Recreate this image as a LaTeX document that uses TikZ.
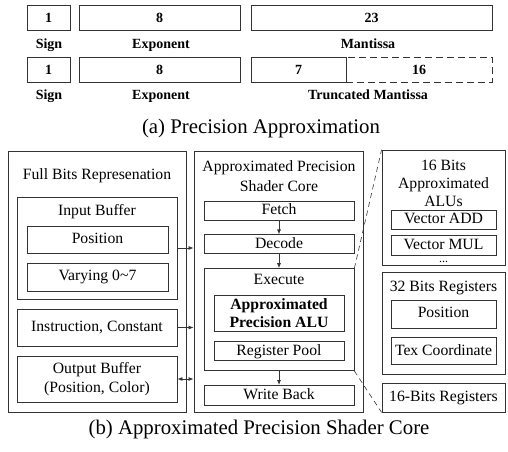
\documentclass[tikz,border=0pt]{standalone}
\usepackage{fontspec}
\setmainfont{Liberation Serif}
\usetikzlibrary{arrows.meta,positioning}

\begin{document}
\begin{tikzpicture}[x=1pt, y=-1pt, node distance=14pt,
    blk/.style={rectangle, draw=black!80, line width=0.8pt, inner sep=0pt, align=center, font=\fontsize{15.7}{18.5}\selectfont},
    one/.style={text height=10.6pt, text depth=3.2pt},
    bit/.style={rectangle, draw=black!80, line width=0.8pt, minimum height=25pt, inner sep=0pt, font=\fontsize{14}{16}\selectfont\bfseries},
    lbl/.style={inner sep=0pt, anchor=north, font=\fontsize{14}{16}\selectfont\bfseries},
    txt/.style={inner sep=0pt, anchor=north, align=center, font=\fontsize{15.7}{18.7}\selectfont},
    captxt/.style={inner sep=0pt, anchor=base, font=\fontsize{20.8}{24}\selectfont},
    arr/.style={-{Latex[length=5pt,width=4pt]}, line width=0.8pt, draw=black!80},
    zoomln/.style={dash pattern=on 5pt off 4pt, line width=0.6pt, draw=black!80}]
    \useasboundingbox (0,0) rectangle (508,451);

    % (a) bit fields
    \node [bit, minimum width=43pt] (sign1) at (48.5,17.5) {1};
    \node [bit, minimum width=161pt] (exp1) at (159.5,17.5) {8};
    \node [bit, minimum width=241pt] (man1) at (371.5,17.5) {23};
    \node [lbl] (signl1) at (49,39) {Sign};
    \node [lbl] (expl1) at (161,39) {Exponent};
    \node [lbl] (manl1) at (368,39) {Mantissa};

    \node [bit, minimum width=43pt] (sign2) at (48.5,69.5) {1};
    \node [bit, minimum width=161pt] (exp2) at (159.5,69.5) {8};
    \node [bit, minimum width=95pt] (man2) at (298.5,69.5) {7};
    \node [bit, minimum width=146pt, dash pattern=on 7pt off 4pt] (cut2) at (419,69.5) {16};
    \node [lbl] (signl2) at (49,90) {Sign};
    \node [lbl] (expl2) at (161,90) {Exponent};
    \node [lbl] (manl2) at (368,90) {Truncated Mantissa};

    \node [captxt] (capa) at (261,133) {(a) Precision Approximation};

    % (b) full bits side
    \node [blk, minimum width=178pt, minimum height=261pt] (full) at (97,281.5) {};
    \node [txt] (fullt) at (97,168) {Full Bits Represenation};
    \node [blk, minimum width=160pt, minimum height=102pt] (inbuf) at (97,248) {};
    \node [txt] (inbuft) at (97,204) {Input Buffer};
    \node [blk, one, minimum width=141pt, minimum height=27pt] (pos) at (97.5,239.5) {Position};
    \node [blk, one, minimum width=141pt, minimum height=28pt] (vary) at (97.5,277) {Varying 0\char`~7};
    \node [blk, one, minimum width=160pt, minimum height=37pt] (instr) at (97,327.5) {Instruction, Constant};
    \node [blk, minimum width=160pt, minimum height=46pt] (outbuf) at (97,379) {Output Buffer\\(Position, Color)};

    % shader core
    \node [blk, minimum width=169pt, minimum height=261pt] (core) at (278.5,281.5) {};
    \node [txt, font=\fontsize{15.7}{20}\selectfont] (coret) at (279,160) {Approximated Precision\\Shader Core};
    \node [blk, one, minimum width=150pt, minimum height=19pt] (fetch) at (279,210.5) {Fetch};
    \node [blk, one, minimum width=150pt, minimum height=19pt, below=of fetch] (decode) {Decode};
    \node [blk, minimum width=150pt, minimum height=102pt, below=of decode] (exec) {};
    \node [txt] (exect) at (279,274) {Execute};
    \node [blk, minimum width=130pt, minimum height=36pt, font=\fontsize{15.7}{18.5}\selectfont\bfseries] (alu) at (279,313) {Approximated\\Precision ALU};
    \node [blk, one, minimum width=130pt, minimum height=19pt, below=10pt of alu] (rpool) {Register Pool};
    \node [blk, one, minimum width=150pt, minimum height=20pt, below=of exec] (wback) {Write Back};

    % zoomed parts
    \node [blk, minimum width=123pt, minimum height=115pt] (alus) at (443.5,207.5) {};
    \node [txt, font=\fontsize{15.7}{18.3}\selectfont] (alust) at (443.5,159.5) {16 Bits\\Approximated\\ALUs};
    \node [blk, one, minimum width=105pt, minimum height=19pt] (vadd) at (443.5,219.5) {Vector ADD};
    \node [blk, one, minimum width=105pt, minimum height=20pt, below=6pt of vadd] (vmul) {Vector MUL};
    \node [txt, anchor=base, font=\fontsize{12}{14}\selectfont] (dots) at (443.5,262) {...};
    \node [blk, minimum width=123pt, minimum height=102pt] (regs32) at (443.5,323) {};
    \node [txt] (regs32t) at (443.5,280.5) {32 Bits Registers};
    \node [blk, one, minimum width=105pt, minimum height=28pt] (rpos) at (443.5,314) {Position};
    \node [blk, one, minimum width=105pt, minimum height=27pt, below=9pt of rpos] (rtex) {Tex Coordinate};
    \node [blk, one, minimum width=123pt, minimum height=29pt] (regs16) at (443.5,397.5) {16-Bits Registers};

    \node [captxt] (capb) at (259,434) {(b) Approximated Precision Shader Core};

    \draw [arr] (inbuf.east) -- (inbuf.east -| core.west);
    \draw [arr] (instr.east) -- (instr.east -| core.west);
    \draw [arr, {Latex[length=5pt,width=4pt]}-{Latex[length=5pt,width=4pt]}] (outbuf.east) -- (outbuf.east -| core.west);
    \draw [arr] (fetch) -- (decode);
    \draw [arr] (decode) -- (exec);
    \draw [arr] (exec) -- (wback);

    \draw [zoomln] (exec.north east) -- (alus.north west);
    \draw [zoomln] (exec.south east) -- (regs16.south west);
\end{tikzpicture}
\end{document}
